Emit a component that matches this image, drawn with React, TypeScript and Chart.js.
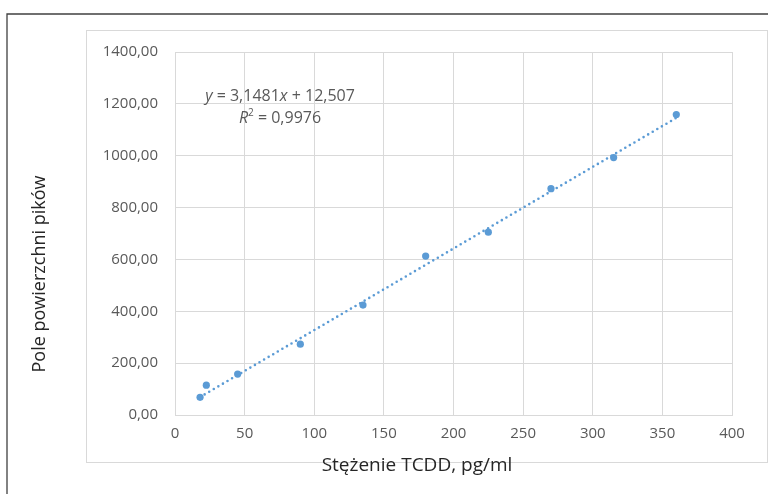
import React, { useEffect, useRef } from "react";
import { Chart, registerables } from "chart.js";

Chart.register(...registerables);

// ---- data ----
const CONCENTRATIONS = [18, 22.5, 45, 90, 135, 180, 225, 270, 315, 360];
const PEAK_AREAS = [68, 115, 158, 273, 424, 613, 705, 873, 993, 1159];
const TREND_SLOPE = 3.1481;
const TREND_INTERCEPT = 12.507;
const X_TITLE = "Stężenie TCDD, pg/ml";
const Y_TITLE = "Pole powierzchni pików";
const X_MIN = 0, X_MAX = 400, X_STEP = 50;
const Y_MIN = 0, Y_MAX = 1400, Y_STEP = 200;

const FONT = "'Open Sans', 'DejaVu Sans', sans-serif";
const TEXT_GRAY = "#595959";
const BLUE = "#5B9BD5";
const GRID = "#D9D9D9";

type Run = { t: string; italic?: boolean; sup?: boolean };

function drawRuns(ctx: CanvasRenderingContext2D, runs: Run[], cx: number, cy: number, size: number) {
  const fontFor = (r: Run) =>
    `${r.italic ? "italic " : ""}${r.sup ? Math.round(size * 0.65) : size}px ${FONT}`;
  let total = 0;
  for (const r of runs) {
    ctx.font = fontFor(r);
    total += ctx.measureText(r.t).width;
  }
  let x = cx - total / 2;
  ctx.textBaseline = "middle";
  ctx.textAlign = "left";
  for (const r of runs) {
    ctx.font = fontFor(r);
    ctx.fillText(r.t, x, r.sup ? cy - size * 0.33 : cy);
    x += ctx.measureText(r.t).width;
  }
}

const framePlugin = {
  id: "frame",
  beforeDraw(chart: any) {
    const ctx = chart.ctx as CanvasRenderingContext2D;
    ctx.save();
    ctx.fillStyle = "#ffffff";
    ctx.fillRect(0, 0, chart.width, chart.height);
    // outer dark frame (top + left)
    ctx.strokeStyle = "#404040";
    ctx.lineWidth = 1.3;
    ctx.beginPath();
    ctx.moveTo(7, chart.height);
    ctx.lineTo(7, 14);
    ctx.lineTo(chart.width, 14);
    ctx.stroke();
    // inner light box
    ctx.strokeStyle = GRID;
    ctx.lineWidth = 1;
    ctx.strokeRect(86.5, 30.5, 681, 432);
    ctx.restore();
  },
  afterDraw(chart: any) {
    const ctx = chart.ctx as CanvasRenderingContext2D;
    const area = chart.chartArea;
    ctx.save();
    ctx.fillStyle = TEXT_GRAY;
    // equation
    drawRuns(ctx, [
      { t: "y", italic: true },
      { t: " = 3,1481" },
      { t: "x", italic: true },
      { t: " + 12,507" },
    ], area.left + 105, area.top + 44, 16);
    drawRuns(ctx, [
      { t: "R", italic: true },
      { t: "2", sup: true },
      { t: " = 0,9976" },
    ], area.left + 105, area.top + 66, 16);
    // axis titles
    ctx.fillStyle = "#262626";
    ctx.textAlign = "center";
    ctx.textBaseline = "middle";
    ctx.font = `19px ${FONT}`;
    ctx.fillText(X_TITLE, 417, 466);
    ctx.font = `18px ${FONT}`;
    ctx.translate(40, 274);
    ctx.rotate(-Math.PI / 2);
    ctx.fillText(Y_TITLE, 0, 0);
    ctx.restore();
  },
};

export default function App() {
  const ref = useRef<HTMLCanvasElement | null>(null);
  useEffect(() => {
    if (!ref.current) return;
    const points = CONCENTRATIONS.map((x, i) => ({ x, y: PEAK_AREAS[i] }));
    const xLo = Math.min(...CONCENTRATIONS);
    const xHi = Math.max(...CONCENTRATIONS);
    const trend = [
      { x: xLo, y: TREND_SLOPE * xLo + TREND_INTERCEPT },
      { x: xHi, y: TREND_SLOPE * xHi + TREND_INTERCEPT },
    ];
    const chart = new Chart(ref.current, {
      type: "scatter",
      data: {
        datasets: [
          {
            type: "line",
            data: trend,
            borderColor: BLUE,
            borderWidth: 2.6,
            borderDash: [0, 5.3],
            borderCapStyle: "round",
            pointRadius: 0,
            fill: false,
            order: 2,
          } as any,
          {
            data: points,
            backgroundColor: BLUE,
            borderColor: BLUE,
            borderWidth: 0,
            pointRadius: 3.6,
            order: 1,
          },
        ],
      },
      options: {
        animation: false,
        responsive: false,
        devicePixelRatio: 1,
        layout: { padding: { left: 0, right: 36, top: 52, bottom: 0 } },
        plugins: { legend: { display: false }, tooltip: { enabled: false } },
        scales: {
          x: {
            type: "linear",
            min: X_MIN,
            max: X_MAX,
            ticks: {
              stepSize: X_STEP,
              padding: 10,
              color: TEXT_GRAY,
              font: { family: FONT, size: 15 },
            },
            grid: { color: GRID, lineWidth: 1, drawTicks: false },
            border: { color: GRID },
            afterFit(scale: any) { scale.height = 79; },
          },
          y: {
            type: "linear",
            min: Y_MIN,
            max: Y_MAX,
            ticks: {
              stepSize: Y_STEP,
              padding: 17,
              color: TEXT_GRAY,
              font: { family: FONT, size: 15 },
              callback: (v: any) => Number(v).toFixed(2).replace(".", ","),
            },
            grid: { color: GRID, lineWidth: 1, drawTicks: false },
            border: { color: GRID },
            afterFit(scale: any) { scale.width = 175; },
          },
        },
      },
      plugins: [framePlugin],
    });
    return () => chart.destroy();
  }, []);
  return (
    <div style={{ position: "fixed", left: 0, top: 0, width: 768, height: 494 }}>
      <canvas ref={ref} width={768} height={494} style={{ display: "block" }} />
    </div>
  );
}
